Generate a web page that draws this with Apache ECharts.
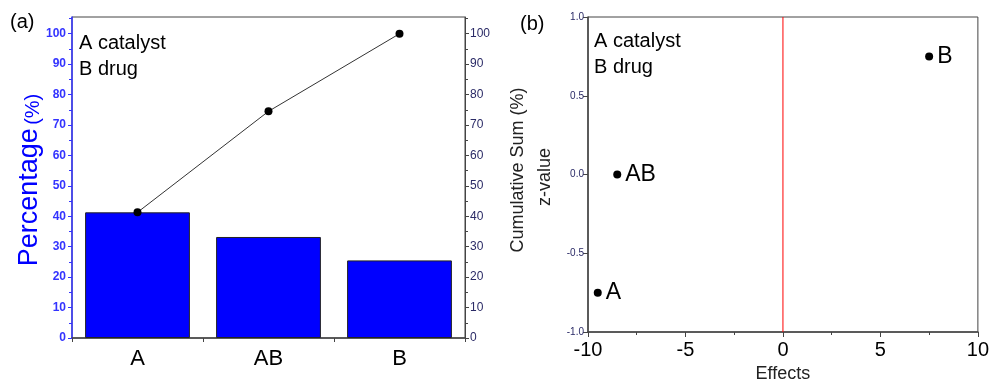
<!DOCTYPE html>
<html><head><meta charset="utf-8">
<script src="https://cdn.jsdelivr.net/npm/echarts@6/dist/echarts.min.js"></script>
<style>html,body{margin:0;padding:0;background:#fff}#c{width:992px;height:388px}</style>
</head><body><div id="c"></div>
<script>
var categories = ['A', 'AB', 'B'];
var percentValues = [41.3, 33.2, 25.5];
var cumulativeValues = [41.3, 74.5, 100];
var effectNames = ['A', 'AB', 'B'];
var effectValues = [-9.5, -8.5, 7.5];
var zValues = [-0.75, 0, 0.75];
var percentTicks = [0, 10, 20, 30, 40, 50, 60, 70, 80, 90, 100];
var zeroEffect = 0;

var F = '"Liberation Sans", Arial, sans-serif';
var chart = echarts.init(document.getElementById('c'));
var scatterData = effectValues.map(function (v, i) { return { value: [v, zValues[i]], name: effectNames[i] }; });

chart.setOption({
  animation: false,
  textStyle: { fontFamily: F },
  grid: [
    { left: 72, right: 527, top: 17, bottom: 50, show: true, borderColor: '#444', borderWidth: 1 },
    { left: 588, right: 13, top: 17, bottom: 50, show: true, borderColor: '#444', borderWidth: 1 }
  ],
  xAxis: [
    { type: 'category', gridIndex: 0, data: categories,
      axisLine: { lineStyle: { color: '#444', width: 1.5 } },
      axisTick: { show: true, length: 4, lineStyle: { color: '#444' } },
      axisLabel: { fontSize: 22, color: '#000', margin: 10, fontFamily: F } },
    { type: 'value', gridIndex: 1, min: -10, max: 10, interval: 5,
      name: 'Effects', nameLocation: 'middle', nameGap: 33,
      nameTextStyle: { fontSize: 18, color: '#222', fontFamily: F },
      axisLine: { onZero: false, lineStyle: { color: '#444', width: 1.5 } },
      axisTick: { show: true, length: 5, lineStyle: { color: '#444' } },
      minorTick: { show: true, splitNumber: 2, length: 3, lineStyle: { color: '#444' } },
      splitLine: { show: false },
      axisLabel: { fontSize: 20, color: '#000', margin: 8, fontFamily: F } }
  ],
  yAxis: [
    { type: 'value', gridIndex: 0, min: 0, max: 105.5, interval: 10, position: 'left',
      axisLine: { show: true, lineStyle: { color: '#3333ff', width: 1.5 } },
      axisTick: { show: true, length: 4, lineStyle: { color: '#3333ff' }, customValues: percentTicks },
      minorTick: { show: true, splitNumber: 2, length: 3, lineStyle: { color: '#3333ff' } },
      splitLine: { show: false },
      axisLabel: { fontSize: 12, color: '#3333ff', margin: 6, fontFamily: F, fontWeight: 'bold', customValues: percentTicks } },
    { type: 'value', gridIndex: 0, min: 0, max: 105.5, interval: 10, position: 'right',
      axisLine: { show: true, lineStyle: { color: '#444', width: 1 } },
      axisTick: { show: true, length: 4, lineStyle: { color: '#444' }, customValues: percentTicks },
      minorTick: { show: true, splitNumber: 2, length: 3, lineStyle: { color: '#444' } },
      splitLine: { show: false },
      axisLabel: { fontSize: 12, color: '#2a2a66', margin: 5, fontFamily: F, customValues: percentTicks } },
    { type: 'value', gridIndex: 1, min: -1, max: 1, interval: 0.5, position: 'left',
      axisLine: { show: true, onZero: false, lineStyle: { color: '#444', width: 1.5 } },
      axisTick: { show: true, length: 5, lineStyle: { color: '#444' } },
      splitLine: { show: false },
      axisLabel: { fontSize: 10, color: '#2a2a66', margin: 4, fontFamily: F,
        formatter: function (v) { return v.toFixed(1); } } }
  ],
  series: [
    { type: 'bar', xAxisIndex: 0, yAxisIndex: 0, data: percentValues, barCategoryGap: '20%',
      itemStyle: { color: '#0000ff', borderColor: '#222', borderWidth: 1 } },
    { type: 'line', xAxisIndex: 0, yAxisIndex: 1, data: cumulativeValues, symbol: 'circle', symbolSize: 8,
      lineStyle: { color: '#333', width: 1 }, itemStyle: { color: '#000' } },
    { type: 'line', xAxisIndex: 1, yAxisIndex: 2, data: [[zeroEffect, -1], [zeroEffect, 1]], symbol: 'none',
      lineStyle: { color: '#ff0000', width: 1 }, z: 1 },
    { type: 'scatter', xAxisIndex: 1, yAxisIndex: 2, data: scatterData, symbolSize: 8,
      itemStyle: { color: '#000', opacity: 1 },
      label: { show: true, position: 'right', distance: 4, formatter: '{b}', fontSize: 23, color: '#000', fontFamily: F } }
  ],
  graphic: [
    { type: 'text', left: 10, top: 12, style: { text: '(a)', fontSize: 20, fill: '#000', fontFamily: F } },
    { type: 'text', left: 520, top: 14, style: { text: '(b)', fontSize: 20, fill: '#000', fontFamily: F } },
    { type: 'text', left: 79, top: 30, style: { text: 'A catalyst\nB drug', fontSize: 20, lineHeight: 26, fill: '#000', fontFamily: F } },
    { type: 'text', left: 594, top: 28, style: { text: 'A catalyst\nB drug', fontSize: 20, lineHeight: 26, fill: '#000', fontFamily: F } },
    { type: 'text', x: 30, y: 180, rotation: Math.PI / 2,
      style: { text: '{a|Percentage} {b|(%)}', align: 'center', verticalAlign: 'middle',
        rich: { a: { fontSize: 27, fill: '#0000ff', fontFamily: F, verticalAlign: 'bottom' }, b: { fontSize: 20, fill: '#0000ff', fontFamily: F, verticalAlign: 'bottom' } } } },
    { type: 'text', x: 518, y: 170, rotation: Math.PI / 2,
      style: { text: 'Cumulative Sum (%)', align: 'center', verticalAlign: 'middle', fontSize: 18, fill: '#222', fontFamily: F } },
    { type: 'text', x: 545, y: 177, rotation: Math.PI / 2,
      style: { text: 'z-value', align: 'center', verticalAlign: 'middle', fontSize: 18, fill: '#222', fontFamily: F } }
  ]
});
</script></body></html>
